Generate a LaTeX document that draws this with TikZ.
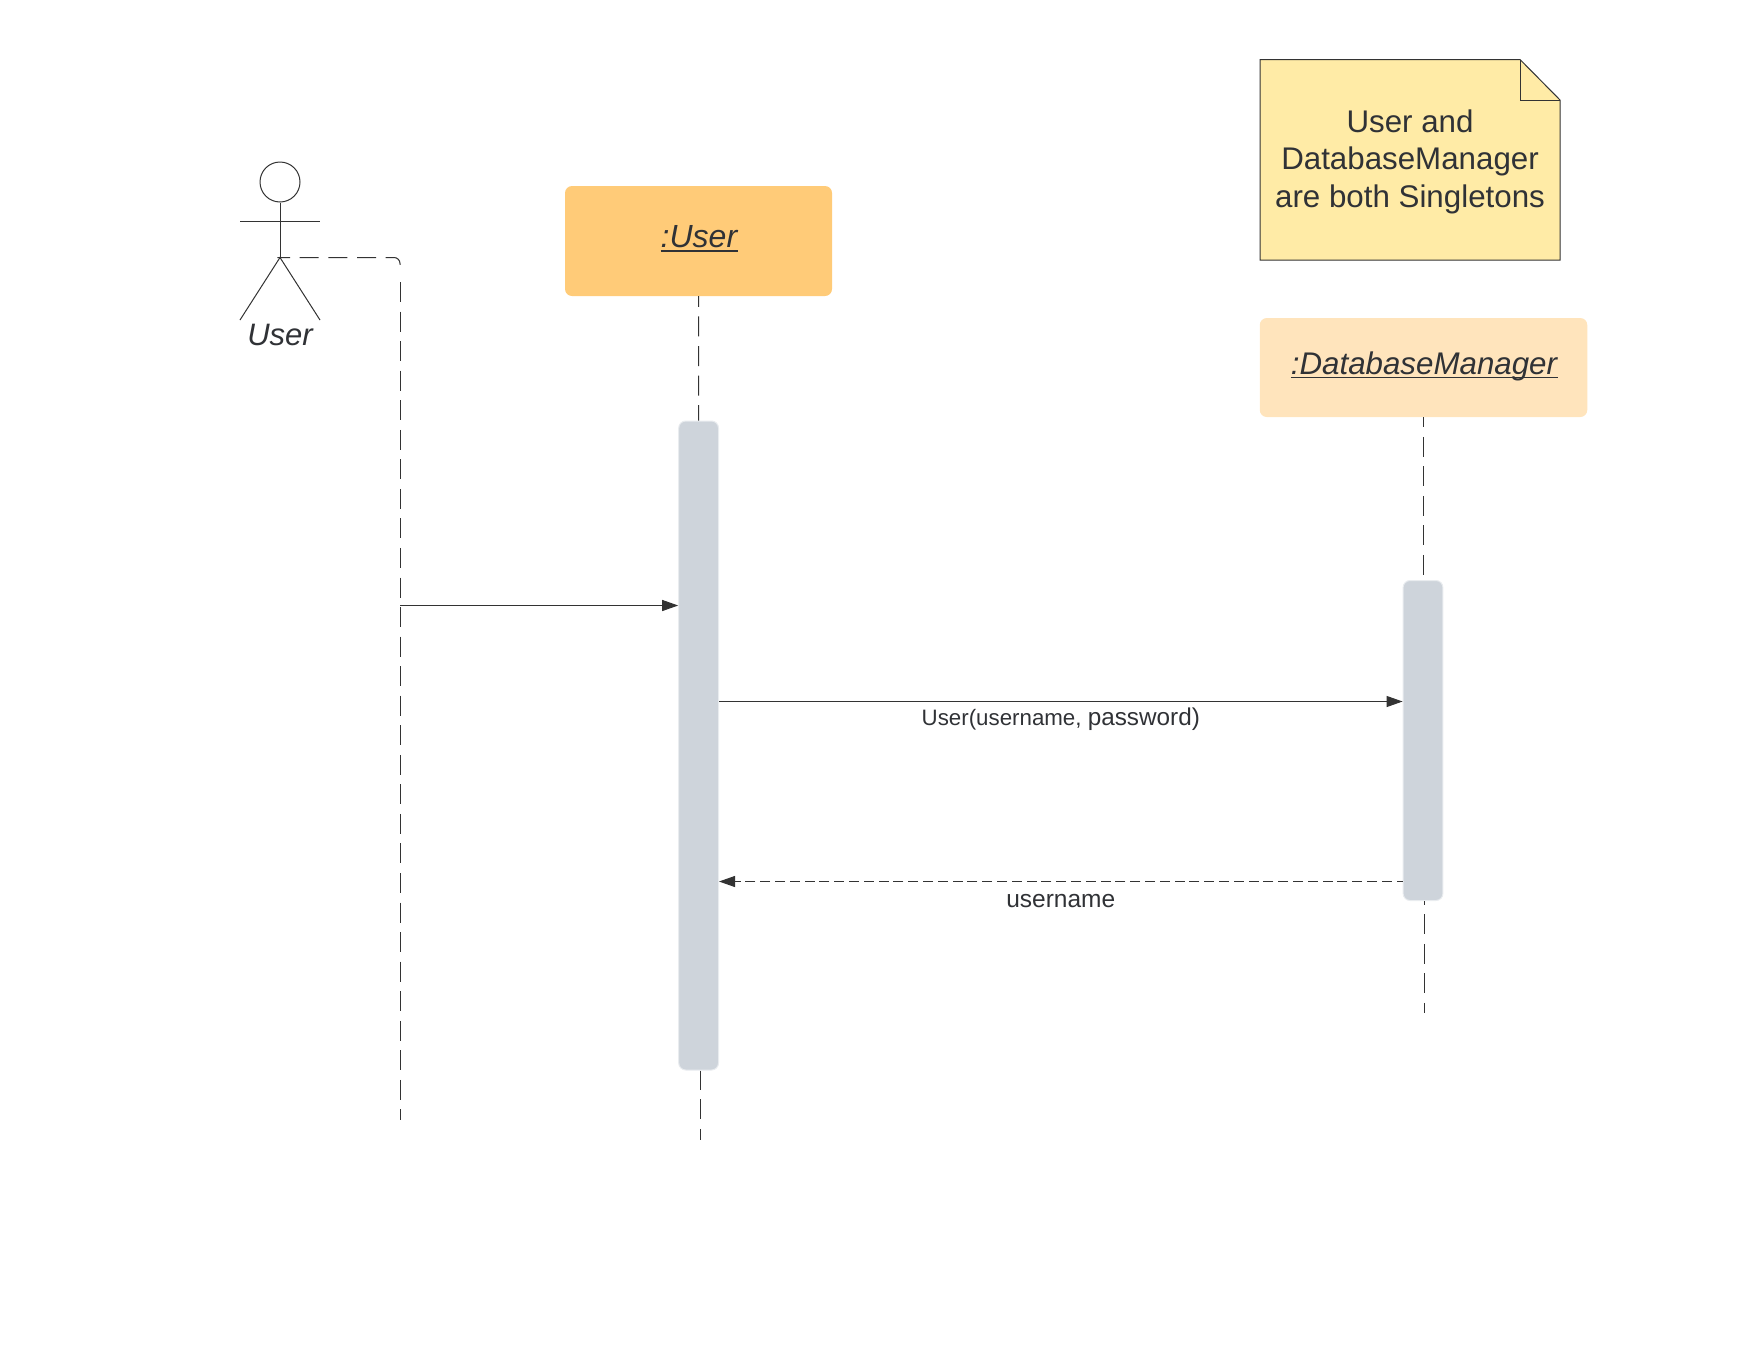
\documentclass[tikz,border=0pt]{standalone}
\usepackage{fontspec}
\setmainfont{Liberation Sans}
\usetikzlibrary{positioning,calc,arrows.meta}
\definecolor{inkcol}{HTML}{303236}
\definecolor{linecol}{HTML}{333333}
\definecolor{usercol}{HTML}{FFCB78}
\definecolor{dbcol}{HTML}{FFE4BC}
\definecolor{notecol}{HTML}{FFEBA6}
\definecolor{barcol}{HTML}{CED4DB}
\newcommand*{\txt}[1]{\fontsize{#1}{37.5}\selectfont}
\newcommand*{\objname}[1]{\setbox0\hbox{\textit{#1}}\hskip2pt\rlap{\rule[-4pt]{\wd0}{1.4pt}}\box0}
\tikzset{
  objbox/.style={rounded corners=7pt,text=inkcol,text depth=9pt},
  actbar/.style={fill=barcol,draw=barcol!45!white,line width=1pt,rounded corners=7pt,minimum width=39.8pt,inner sep=0pt},
  lifeline/.style={draw=linecol,line width=1pt,dash pattern=on 20pt off 9.55pt},
  msg/.style={draw=linecol,line width=1pt,-{Triangle[length=16pt,width=11pt]}},
  reply/.style={msg,dash pattern=on 10pt off 4.8pt,dash phase=4pt},
  limb/.style={draw=linecol,line width=1pt}
}
\begin{document}
\begin{tikzpicture}[x=1pt,y=-1pt]
\useasboundingbox (0,0) rectangle (1760,1360);
% Object boxes
\node [objbox,fill=usercol,font=\txt{32},minimum width=267pt,minimum height=110pt] (userbox) at (698.5,241) {\objname{:User}};
\node [objbox,fill=dbcol,font=\txt{31.3},minimum width=327.5pt,minimum height=99pt] (dbbox) at (1423.5,367.5) {\objname{:DatabaseManager}};
% Activation bars
\node [actbar,minimum height=649pt] (userbar) at (698.6,745.5) {};
\node [actbar,minimum height=320pt] (dbbar) at (1423,740.5) {};
% Stick figure on the left
\node [circle,limb,minimum size=40pt,inner sep=0pt] (head) at (280,182) {};
\coordinate (hip) at (280,257.5);
\coordinate (armL) at (240,221.5);
\coordinate (armR) at (320,221.5);
\coordinate (footL) at (240,320);
\coordinate (footR) at (320,320);
\draw [limb] (head) -- (hip);
\draw [limb] (armL) -- (armR);
\draw [limb] (footL) -- (hip) -- (footR);
\node [text=inkcol,font=\txt{31}\itshape] (actorname) at (280,335) {User};
% Lifeline that leaves the stick figure
\coordinate (actorstart) at (277.3,257.5);
\coordinate (actorbend) at (400,270);
\coordinate (actorline) at (400,282);
\coordinate (actorend) at (400,1119.5);
\draw [lifeline,rounded corners=6pt,dash pattern=on 19.1pt off 9.6pt,dash phase=6.4pt] (actorstart) -| (actorbend);
\draw [lifeline] (actorline) -- (actorend);
% Lifelines above and below the bars
\coordinate (userend) at (700,1139.5);
\coordinate (dbend) at (1424,1012.7);
\draw [lifeline,dash phase=9.3pt] (userbox) -- (userbar);
\draw [lifeline,dash phase=10pt] (dbbar.north |- dbbox.south) -- (dbbar);
\draw [lifeline,dash phase=0.7pt] (userend |- userbar.south) -- (userend);
\draw [lifeline,dash phase=16.3pt] (dbend |- dbbar.south) -- (dbend);
% Messages
\coordinate (callstart) at (400,605.5);
\coordinate (newy) at (0,701.5);
\coordinate (rety) at (0,881.5);
\draw [msg] (callstart) -- (userbar.west |- callstart);
\draw [msg] (userbar.east |- newy) -- node[below=4pt,text=inkcol,inner sep=2pt] (newlabel) {\fontsize{22.3}{26}\selectfont User(username, \fontsize{24.3}{26}\selectfont password)} (dbbar.west |- newy);
\draw [reply] (dbbar.west |- rety) -- node[below=10pt,text=inkcol,inner sep=2pt] (retlabel) {\txt{24.5}username} (userbar.east |- rety);
% Sticky note with folded corner
\coordinate (noteNW) at (1260,59.5);
\coordinate (noteSE) at (1560,260);
\coordinate (foldA) at (1520,59.5);
\coordinate (foldB) at (1560,100);
\draw [limb,fill=notecol] (noteNW) -- (foldA) -- (foldB) -- (noteSE) -- (noteNW |- noteSE) -- cycle;
\draw [limb] (foldA) -- (foldA |- foldB) -- (foldB);
\node [text=inkcol,align=center,font=\txt{31.3}] (notetext) at (1410,161.5) {User and\\DatabaseManager\\are both Singletons};
\end{tikzpicture}
\end{document}
